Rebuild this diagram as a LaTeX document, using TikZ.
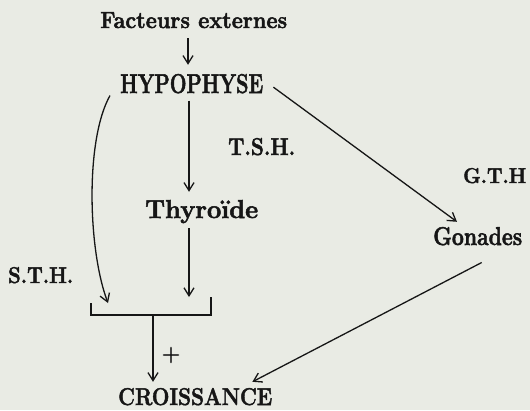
\documentclass[tikz,border=0pt]{standalone}
\usepackage{fontspec}
\usepackage{graphicx}
\usetikzlibrary{arrows.meta,calc}
\definecolor{paper}{RGB}{233,235,228}
\definecolor{ink}{RGB}{22,22,22}
\newfontfamily\lblfont[FakeBold=2]{Latin Modern Roman}
\newcommand{\fitlbl}[3]{\resizebox{#1pt}{#2pt}{\fontsize{20}{24}\lblfont\bfseries #3}}
\begin{document}
\begin{tikzpicture}[x=1pt,y=-1pt,
  lbl/.style={inner sep=0pt,text=ink,anchor=base west},
  line/.style={draw=ink,line width=1.3pt},
  arr/.style={line,-{Straight Barb[length=8pt,width=10pt,line width=1.3pt]}}]
\fill[paper] (0,0) rectangle (530,410);
\useasboundingbox (0,0) rectangle (530,410);
\node[lbl] (fe) at (100,28) {\fitlbl{187}{16}{Facteurs externes}};
\node[lbl] (hyp) at (120,93) {\fitlbl{143}{19}{HYPOPHYSE}};
\node[lbl] (tsh) at (228,155) {\fitlbl{67}{17}{T.S.H.}};
\node[lbl] (thy) at (145,218) {\fitlbl{113}{18}{Thyroïde}};
\node[lbl] (gth) at (463,183) {\fitlbl{63}{15}{G.T.H}};
\node[lbl] (gon) at (433,245) {\fitlbl{89}{18}{Gonades}};
\node[lbl] (sth) at (8,283) {\fitlbl{65}{16}{S.T.H.}};
\node[lbl] (cro) at (118,405) {\fitlbl{154}{17}{CROISSANCE}};
\node[inner sep=0pt,text=ink,font=\fontsize{25}{28}\lblfont] (plus) at (171,355) {+};
% bracket
\coordinate (bl) at (91,303);
\coordinate (bbl) at (91,315);
\coordinate (br) at (211,297);
\coordinate (bbr) at (211,315);
\coordinate (bj) at (153,315);
\draw[line] (bl) -- (bbl) -- (bbr) -- (br);
% connectors
\draw[arr] ($(fe.south -| 188,0)+(0,10)$) -- ($(hyp.north -| 188,0)+(0,-9)$);
\draw[arr] ($(hyp.south -| 189,0)+(0,7)$) -- ($(thy.north -| 189,0)+(0,-8)$);
\draw[arr] ($(thy.south -| 189,0)+(0,5)$) -- (br -| 189,0);
\draw[arr] ($(hyp.south west)+(-10,2)$) .. controls (85,140) and (88,250) .. (bl -| 108,0);
\draw[arr] ($(hyp.east)+(10,3.5)$) -- ($(gon.north west)+(24,-5)$);
\draw[arr] (bj) -- ($(cro.north -| bj)+(0,-6)$);
\draw[arr] ($(gon.south)+(4,17)$) -- ($(cro.north east)+(-20,-6)$);
\end{tikzpicture}
\end{document}
